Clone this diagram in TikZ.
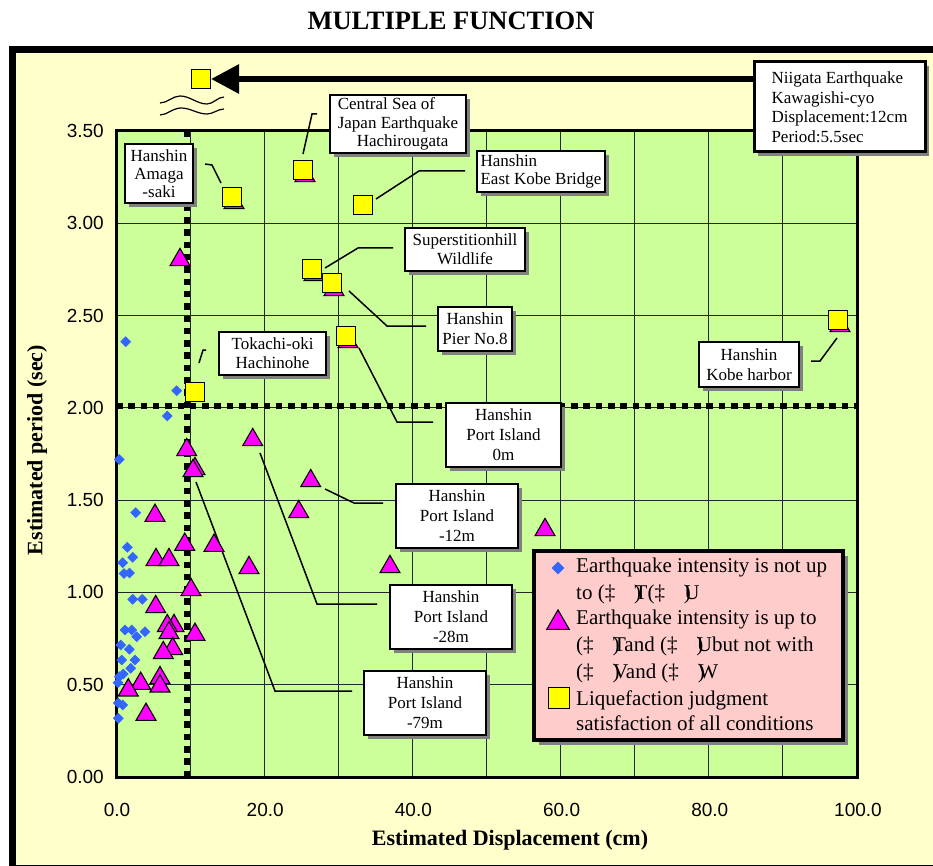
\documentclass[tikz,border=0pt]{standalone}
\usepackage{fontspec}
\setmainfont{Liberation Serif}
\newfontfamily\ticksf{Liberation Sans}
\usetikzlibrary{shapes.geometric,arrows.meta,shadows}
\definecolor{bgyellow}{HTML}{FFFFCC}
\definecolor{plotgreen}{HTML}{CCFF99}
\definecolor{dblue}{HTML}{3366FF}
\definecolor{mag}{HTML}{FF00FF}
\definecolor{sqyellow}{HTML}{FFFF00}
\definecolor{legpink}{HTML}{FFCCCC}
\definecolor{shadowgrey}{HTML}{808080}
\newcommand\ovl[1]{\rlap{)}\kern0.5pt #1}
\tikzset{
  dia/.style={diamond, fill=dblue, minimum size=11pt, inner sep=0pt},
  tri/.style={regular polygon, regular polygon sides=3, draw=black, line width=1.1pt, fill=mag, minimum size=23pt, inner sep=0pt, yshift=-2.9pt},
  sq/.style={rectangle, draw=black, line width=1pt, fill=sqyellow, minimum size=19pt, inner sep=0pt},
  lbl/.style={rectangle, draw=black, line width=1.8pt, fill=white, align=center, inner sep=0pt,
    font=\fontsize{17}{20}\selectfont,
    drop shadow={shadow xshift=4pt, shadow yshift=-4pt, fill=shadowgrey, opacity=1}},
  conn/.style={line width=1.5pt, draw=black},
  gridl/.style={line width=1pt, draw=black!85},
  dots/.style={line width=6pt, dash pattern=on 6.5pt off 5.8pt},
  ticklab/.style={font=\ticksf\fontsize{19}{19}\selectfont},
  legtxt/.style={anchor=base west, inner sep=0pt, font=\fontsize{21}{27}\selectfont},
}
\begin{document}
\begin{tikzpicture}[x=1pt,y=-1pt]
\useasboundingbox (0,0) rectangle (933,866);
\clip (0,0) rectangle (933,866);
\fill[white] (0,0) rectangle (933,866);
\draw[line width=7pt, fill=bgyellow] (12,50) rectangle (945,868);
% title
\node[font=\bfseries\fontsize{26.5}{26.5}\selectfont] (title) at (451,21) {MULTIPLE FUNCTION};
% plot area
\fill[plotgreen] (116,131) rectangle (857,777);
\foreach \gx in {190,264,338,412,486,560,634.6,708.7,782.8}
  \draw[gridl] (\gx,131) -- (\gx,777);
\foreach \v in {0.5,1,...,3}
  \draw[gridl] (116,{777-184.57*\v}) -- (857,{777-184.57*\v});
\draw[dots] (186.5,131) -- (186.5,777);
\draw[dots] (116,405.7) -- (857,405.7);
\draw[line width=3pt] (116,131) rectangle (857,777);
% ticks
\foreach \v/\t in {0/0.00,0.5/0.50,1/1.00,1.5/1.50,2/2.00,2.5/2.50,3/3.00,3.5/3.50}
  \node[ticklab, anchor=east, inner sep=0pt] (yt\t) at (104,{777-184.57*\v}) {\t};
\foreach \u/\t in {0/0.0,20/20.0,40/40.0,60/60.0,80/80.0,100/100.0}
  \node[ticklab, inner sep=0pt] (xt\t) at ({117+7.41*\u},810) {\t};
\node[font=\bfseries\fontsize{22}{22}\selectfont] (xtitle) at (510,840) {Estimated Displacement (cm)};
\node[font=\bfseries\fontsize{22}{22}\selectfont, rotate=90] (ytitle) at (37,450) {Estimated period (sec)};
% break mark
\draw[line width=1.2pt] (160,103) cos (170,99.5) sin (180,96) cos (193.5,100) sin (207,104) cos (215.5,100.5) sin (224,97);
\draw[line width=1.2pt] (160,115) cos (170,111.5) sin (181,108) cos (194,111) sin (207,114) cos (215.5,111.5) sin (224,109);
% connectors
\coordinate (a1) at (205,164); \coordinate (a2) at (221,183);
\draw[conn] (a1) -- (212,165) -- (a2);
\coordinate (b1) at (317,114); \coordinate (b2) at (303,154);
\draw[conn] (b1) -- (312,114) -- (b2);
\coordinate (c1) at (465,171); \coordinate (c2) at (376,199);
\draw[conn] (c1) -- (419,171) -- (c2);
\coordinate (d1) at (393,248); \coordinate (d2) at (325,268);
\draw[conn] (d1) -- (358,248) -- (d2);
\coordinate (e1) at (426,326); \coordinate (e2) at (349,291);
\draw[conn] (e1) -- (387,326) -- (e2);
\coordinate (f1) at (206,350); \coordinate (f2) at (199,363);
\draw[conn] (f1) -- (203,350) -- (f2);
\coordinate (g1) at (433,422); \coordinate (g2) at (359,348);
\draw[conn] (g1) -- (397,422) -- (g2);
\coordinate (h1) at (383,503); \coordinate (h2) at (325,489);
\draw[conn] (h1) -- (354,503) -- (h2);
\coordinate (i1) at (377,604); \coordinate (i2) at (260,453);
\draw[conn] (i1) -- (317,604) -- (i2);
\coordinate (j1) at (352,691); \coordinate (j2) at (196,482);
\draw[conn] (j1) -- (275,691) -- (j2);
\coordinate (k1) at (811,361); \coordinate (k2) at (837,338);
\draw[conn] (k1) -- (820,361) -- (k2);
% diamonds
\foreach \px/\py [count=\i] in {125.7/341.7, 176.7/390.7, 167.3/416, 119.3/459.5, 135.7/512.7, 127.3/547.3, 132.7/557.3, 122.7/562.7, 124/573.5, 129.5/573, 132.7/599.3, 142.3/599.3, 125/630, 131.7/630, 136.7/636.7, 145/631.7, 120.7/645, 129.3/649.3, 121.7/660, 135/660, 130.7/668.3, 119.3/676.7, 123.3/674, 118/682.7, 118.3/703, 122.7/705, 118.3/718.3}
  \node[dia] (dm\i) at (\px,\py) {};
% triangles
\foreach \px/\py [count=\i] in {180/257, 186.7/447, 195/466, 193/468, 252.7/437, 310.7/478, 298.7/509, 155/512.7, 184.7/541.7, 214/542.7, 156/557, 169/557, 249/565, 545/527, 390/564, 191/587, 155.7/604, 174/623, 167.3/623, 169/630, 195/631.7, 172.7/646, 163.3/650, 160/675, 160/683.3, 140.7/680.7, 128.3/687.3, 146/711.7}
  \node[tri] (tr\i) at (\px,\py) {};
% triangles hidden under squares
\foreach \px/\py [count=\i] in {234/200, 305/173, 314/272, 334/287, 348/339, 840/323}
  \node[tri] (tu\i) at (\px,\py) {};
% squares
\node[sq] (sqN) at (201,79) {};
\node[sq] (sqAm) at (232,197) {};
\node[sq] (sqCS) at (303,170) {};
\node[sq] (sqEK) at (363,205) {};
\node[sq] (sqSW) at (312,269) {};
\node[sq] (sqP8) at (332,283) {};
\node[sq] (sqPI) at (346,336) {};
\node[sq] (sqTH) at (195,392) {};
\node[sq] (sqKH) at (838,320) {};
% labels
\node[lbl, minimum width=68pt, minimum height=59pt, font=\fontsize{17}{18}\selectfont] (lAm) at (159,173.5) {Hanshin\\Amaga\\-saki};
\node[lbl, minimum width=136pt, minimum height=58pt, align=left, font=\fontsize{17}{18.5}\selectfont] (lCS) at (398,124) {Central Sea of\\Japan Earthquake\\\hspace*{19pt}Hachirougata};
\node[lbl, minimum width=128pt, minimum height=41pt, align=left, font=\fontsize{17}{18}\selectfont] (lEK) at (541,171.5) {Hanshin\\East Kobe Bridge};
\node[lbl, minimum width=120pt, minimum height=43pt, font=\fontsize{17}{19}\selectfont] (lSW) at (465,249.5) {Superstitionhill\\Wildlife};
\node[lbl, minimum width=74pt, minimum height=44pt, font=\fontsize{17}{20}\selectfont] (lP8) at (475,329) {Hanshin\\Pier No.8};
\node[lbl, minimum width=107pt, minimum height=43pt, font=\fontsize{17}{19}\selectfont] (lTH) at (272.5,353.5) {Tokachi-oki\\Hachinohe};
\node[lbl, minimum width=115pt, minimum height=64pt] (lPI0) at (503.5,435) {Hanshin\\Port Island\\0m};
\node[lbl, minimum width=122pt, minimum height=64pt] (lPI12) at (457,516) {Hanshin\\Port Island\\-12m};
\node[lbl, minimum width=122pt, minimum height=64pt] (lPI28) at (451,617) {Hanshin\\Port Island\\-28m};
\node[lbl, minimum width=122pt, minimum height=64pt] (lPI79) at (425,703) {Hanshin\\Port Island\\-79m};
\node[lbl, minimum width=100pt, minimum height=45pt] (lKH) at (749,364.5) {Hanshin\\Kobe harbor};
% Niigata arrow and box
\coordinate (nstart) at (760,79);
\draw[line width=6pt, -{Triangle[length=28pt,width=28pt]}] (nstart) -- (sqN.east);
\node[lbl, line width=3pt, minimum width=171pt, minimum height=90pt, align=left, font=\fontsize{17}{19.5}\selectfont] (lNG) at (839.5,107) {Niigata Earthquake\\Kawagishi-cyo\\Displacement:12cm\\Period:5.5sec};
% legend
\node[rectangle, draw=black, line width=3.5pt, fill=legpink, minimum width=309pt, minimum height=189pt,
  drop shadow={shadow xshift=5pt, shadow yshift=-5pt, fill=shadowgrey, opacity=1}] (legend) at (688.5,645.5) {};
\node[dia, minimum size=13pt] (lgd) at (558,568) {};
\node[tri, minimum size=26pt, yshift=0pt] (lgt) at (558,620) {};
\node[sq, minimum size=21pt] (lgs) at (558.5,698) {};
\node[legtxt] (lt1) at (576,572) {Earthquake intensity is not up};
\node[legtxt] (lt2) at (576,599) {to (‡\hspace{0.9em}\ovl{T}(‡\hspace{0.9em}\ovl{U}};
\node[legtxt] (lt3) at (576,624) {Earthquake intensity is up to};
\node[legtxt] (lt4) at (576,651) {(‡\hspace{0.9em}\ovl{T}and (‡\hspace{0.9em}\ovl{U}but not with};
\node[legtxt] (lt5) at (576,678) {(‡\hspace{0.9em}\ovl{V}and (‡\hspace{0.9em}\ovl{W}};
\node[legtxt] (lt6) at (576,705) {Liquefaction judgment};
\node[legtxt] (lt7) at (576,730) {satisfaction of all conditions};
\end{tikzpicture}
\end{document}
